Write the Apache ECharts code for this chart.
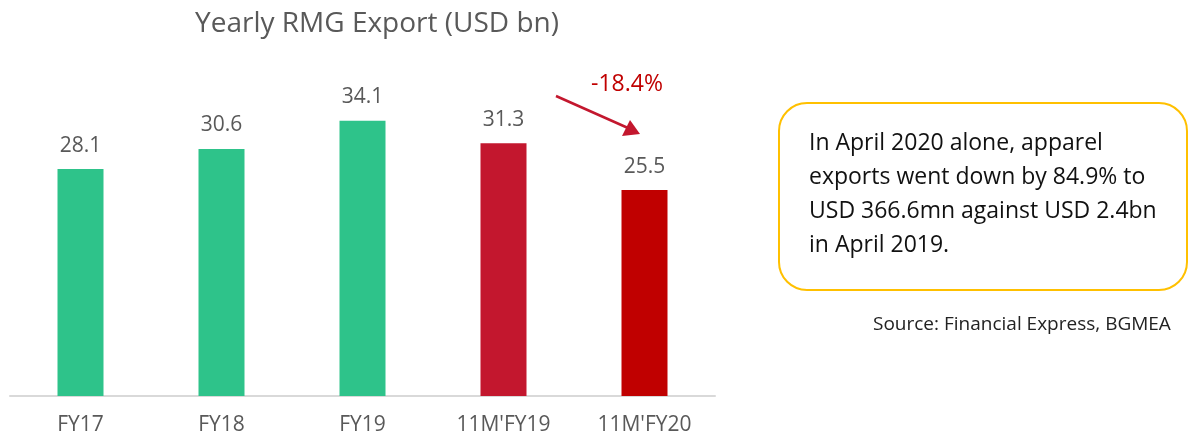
<!DOCTYPE html>
<html><head><meta charset="utf-8">
<script src="https://cdn.jsdelivr.net/npm/echarts@6/dist/echarts.min.js"></script>
<style>html,body{margin:0;padding:0;background:#fff}#c{width:1190px;height:438px}</style>
</head><body><div id="c"></div>
<script>
const categories = ["FY17", "FY18", "FY19", "11M'FY19", "11M'FY20"];
const values = [28.1, 30.6, 34.1, 31.3, 25.5];
const barColors = ["#2ec38a", "#2ec38a", "#2ec38a", "#c3172e", "#c00000"];
const titleText = "Yearly RMG Export (USD bn)";
const changeText = "-18.4%";
const noteLines = ["In April 2020 alone, apparel", "exports went down by 84.9% to", "USD 366.6mn against USD 2.4bn", "in April 2019."];
const sourceText = "Source: Financial Express, BGMEA";

const font = "'Open Sans', Lato, sans-serif";
const chart = echarts.init(document.getElementById('c'));
chart.setOption({
  animation: false,
  title: { text: titleText, left: 372, top: 5, textAlign: 'center',
    textStyle: { color: '#595959', fontSize: 28, fontWeight: 'normal', fontFamily: font } },
  grid: { left: 10, width: 705, top: 73, bottom: 42 },
  xAxis: { type: 'category', data: categories,
    axisLine: { lineStyle: { color: '#d9d9d9', width: 2 } }, axisTick: { show: false },
    axisLabel: { color: '#595959', fontSize: 21, margin: 19, fontFamily: font } },
  yAxis: { type: 'value', min: 0, max: 40, show: false, splitLine: { show: false } },
  series: [{ type: 'bar', barWidth: 46,
    data: values.map((v, i) => ({ value: v, itemStyle: { color: barColors[i] } })),
    label: { show: true, position: 'top', distance: 13, color: '#595959', fontSize: 21, fontFamily: font } }],
  graphic: [
    { type: 'line', shape: { x1: 556, y1: 96, x2: 628, y2: 128 }, style: { stroke: '#c3172e', lineWidth: 2.5 } },
    { type: 'polygon', shape: { points: [[640, 134], [622, 136], [630, 120]] }, style: { fill: '#c3172e' } },
    { type: 'text', left: 591, top: 73, style: { text: changeText, fill: '#c00000', fontSize: 23, fontFamily: font } },
    { type: 'rect', shape: { x: 779, y: 103, width: 408, height: 187, r: 28 }, style: { fill: '#fff', stroke: '#ffc000', lineWidth: 2 } },
    { type: 'text', left: 809, top: 126, style: { text: noteLines.join('\n'), fill: '#111', fontSize: 23, lineHeight: 34, fontFamily: font } },
    { type: 'text', left: 873, top: 315, style: { text: sourceText, fill: '#222', fontSize: 19, fontFamily: font } }
  ]
});
</script></body></html>
